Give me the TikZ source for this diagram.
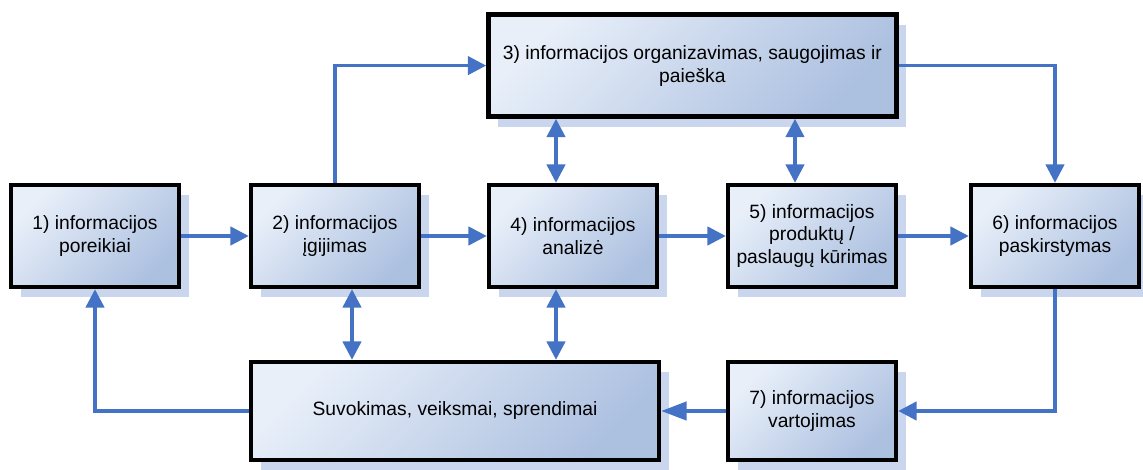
\documentclass[tikz,border=0pt]{standalone}
\usepackage{fontspec}
\setmainfont{Liberation Sans}
\usetikzlibrary{arrows.meta, shadows, positioning}
\definecolor{boxlight}{RGB}{232,239,249}
\definecolor{boxdark}{RGB}{172,192,224}
\definecolor{shadowblue}{RGB}{202,214,238}
\definecolor{arrowblue}{RGB}{68,114,196}

\begin{document}
\begin{tikzpicture}[
  box/.style={rectangle, draw=black, line width=3.2pt, top color=boxlight, bottom color=boxdark, shading angle=45,
    minimum width=4.2cm, minimum height=2.55cm, inner sep=2pt, align=center, font=\fontsize{13.7}{16.3}\selectfont,
    drop shadow={shadow xshift=0.25cm, shadow yshift=-0.25cm, fill=shadowblue, opacity=1}},
  wide/.style={box, minimum width=10.2cm},
  low/.style={minimum height=2.45cm},
  arr/.style={-{Triangle[length=13pt,width=13pt]}, line width=2.4pt, arrowblue},
  dbl/.style={arr, {Triangle[length=13pt,width=13pt]}-{Triangle[length=13pt,width=13pt]}},
  big/.style={arr, -{Triangle[length=18pt,width=13pt]}}
]
  \useasboundingbox (0,0) rectangle (28.575,11.75);
  % --- top and middle row ---
  \node[wide] (n3) at (17.31, 10.11) {3) informacijos organizavimas, saugojimas ir\\paieška};
  \node[box] (n1) at (2.375, 5.85) {1) informacijos\\poreikiai};
  \node[box] (n2) at (8.375, 5.85) {2) informacijos\\įgijimas};
  \node[box] (n4) at (14.325, 5.85) {4) informacijos\\analizė};
  \node[box] (n5) at (20.3, 5.85) {5) informacijos\\produktų /\\paslaugų kūrimas};
  \node[box] (n6) at (26.375, 5.85) {6) informacijos\\paskirstymas};
  % --- bottom row ---
  \node[wide, low] (sv) at (11.375, 1.475) {Suvokimas, veiksmai, sprendimai};
  \node[box, low] (n7) at (20.3, 1.475) {7) informacijos\\vartojimas};
  \coordinate (c4) at (13.9, 0);
  \coordinate (c5) at (19.875, 0);
  \coordinate (c2) at (8.8, 0);
  % main flow
  \draw[arr] (n1) -- (n2);
  \draw[arr] (n2) -- (n4);
  \draw[arr] (n4) -- (n5);
  \draw[arr] (n5) -- (n6);
  \draw[arr] (n2.north) |- (n3.west);
  \draw[arr] (n3.east) -| (n6.north);
  \draw[arr] (n6.south) |- (n7.east);
  \draw[big] (n7) -- (sv);
  \draw[arr] (sv.west) -| (n1.south);
  % two-way links
  \draw[dbl] (n4.north -| c4) -- (n3.south -| c4);
  \draw[dbl] (n5.north -| c5) -- (n3.south -| c5);
  \draw[dbl] (n2.south -| c2) -- (sv.north -| c2);
  \draw[dbl] (n4.south -| c4) -- (sv.north -| c4);
\end{tikzpicture}
\end{document}
